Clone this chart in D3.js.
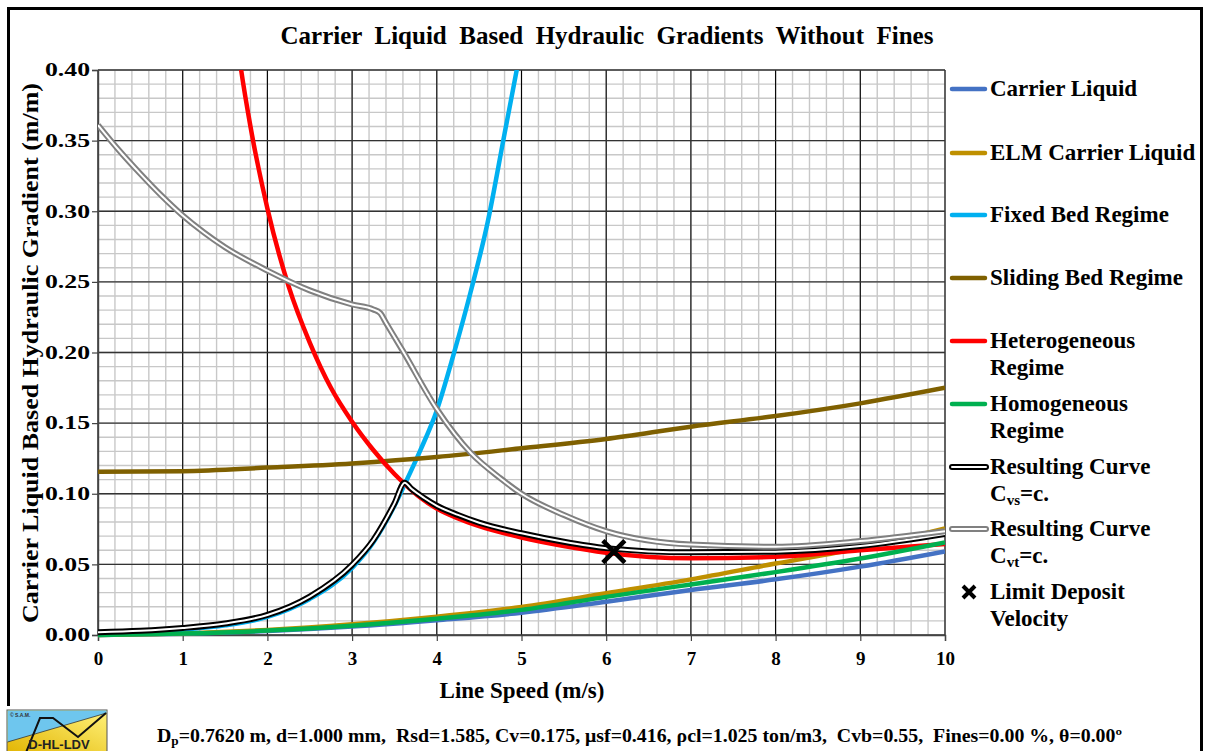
<!DOCTYPE html>
<html>
<head>
<meta charset="utf-8">
<script src="https://cdn.jsdelivr.net/npm/d3@7"></script>
<style>
  body { margin: 0; background: #fff; }
  text { font-family: "Liberation Serif", "Times New Roman", serif; font-weight: bold; fill: #000; }
</style>
</head>
<body>
<script>
// values
var clSpeed          = [0, 1, 2, 3, 4, 5, 6, 7, 8, 9, 10];
var carrierLiquid    = [0.000, 0.0009, 0.0028, 0.0060, 0.0105, 0.0158, 0.0236, 0.0319, 0.0394, 0.0484, 0.0592];
var elmCarrierLiquid = [0.000, 0.0012, 0.0036, 0.0076, 0.0130, 0.0198, 0.0295, 0.0394, 0.0506, 0.0615, 0.0755];
var homogeneous      = [0.000, 0.0010, 0.0031, 0.0066, 0.0115, 0.0178, 0.0270, 0.0358, 0.0445, 0.0541, 0.0655];
var slidingBed       = [0.1155, 0.1160, 0.1185, 0.1215, 0.1260, 0.1322, 0.1388, 0.1475, 0.1550, 0.1640, 0.1750];

var fixedBedSpeed = [0, 1, 1.5, 2, 2.5, 3, 3.25, 3.5, 3.62, 3.8, 4.0, 4.2, 4.4, 4.6, 4.8, 4.95, 5.05];
var fixedBed      = [0.0008, 0.0038, 0.0068, 0.0128, 0.0255, 0.0475, 0.0655, 0.0915, 0.1065, 0.1300, 0.1590, 0.1990, 0.2430, 0.2920, 0.3550, 0.4020, 0.4350];

var heteroSpeed   = [1.6, 1.69, 1.8, 2.0, 2.25, 2.5, 2.75, 3.0, 3.25, 3.5, 3.62, 3.8, 4.0, 4.25, 4.5, 5.0, 5.5, 6.0, 7.0, 8.0, 9.0, 10.0];
var heterogeneous = [0.4400, 0.4000, 0.3600, 0.3020, 0.2470, 0.2070, 0.1750, 0.1510, 0.1310, 0.1140, 0.1070, 0.0975, 0.0895, 0.0825, 0.0770, 0.0690, 0.0630, 0.0583, 0.0543, 0.0554, 0.0600, 0.0645];

var cvsSpeed     = [0, 0.5, 1, 1.5, 2, 2.5, 3, 3.25, 3.5, 3.62, 3.7, 3.85, 4.0, 4.25, 4.5, 5.0, 5.5, 6.0, 7.0, 8.0, 9.0, 10.0];
var resultingCvs = [0.0020, 0.0030, 0.0050, 0.0082, 0.0142, 0.0272, 0.0497, 0.0672, 0.0932, 0.1078, 0.1035, 0.0970, 0.0915, 0.0850, 0.0795, 0.0720, 0.0660, 0.0615, 0.0585, 0.0590, 0.0630, 0.0715];

var cvtSpeed     = [0, 0.25, 0.5, 0.75, 1, 1.25, 1.5, 2, 2.5, 3, 3.25, 3.33, 3.4, 3.6, 4.0, 4.4, 4.75, 5.0, 5.5, 6.0, 7.0, 8.0, 9.0, 10.0];
var resultingCvt = [0.3610, 0.3430, 0.3265, 0.3110, 0.2970, 0.2850, 0.2745, 0.2580, 0.2440, 0.2340, 0.2305, 0.2280, 0.2210, 0.2010, 0.1600, 0.1290, 0.1110, 0.1000, 0.0850, 0.0735, 0.0640, 0.0625, 0.0665, 0.0735];

var ldvPoint = [6.09, 0.059];

var xTicks = [0, 1, 2, 3, 4, 5, 6, 7, 8, 9, 10];
var yTicks = [0, 0.05, 0.10, 0.15, 0.20, 0.25, 0.30, 0.35, 0.40];

var titleText  = "Carrier  Liquid  Based  Hydraulic  Gradients  Without  Fines";
var xLabelText = "Line Speed (m/s)";
var yLabelText = "Carrier Liquid Based Hydraulic Gradient (m/m)";

var W = 1207, H = 751;
var x = d3.scaleLinear().domain([0, 10]).range([98, 945]);
var y = d3.scaleLinear().domain([0, 0.4]).range([635, 70]);

var svg = d3.select("body").append("svg")
    .attr("width", W)
    .attr("height", H);

// outer frame
svg.append("rect")
    .attr("x", 8.5).attr("y", 8.5)
    .attr("width", 1193).attr("height", 800)
    .attr("fill", "#fff")
    .attr("stroke", "#000").attr("stroke-width", 3);

// title
svg.append("text")
    .attr("x", 607).attr("y", 44)
    .attr("text-anchor", "middle")
    .style("font-size", "25px")
    .style("white-space", "pre")
    .text(titleText);

// grid
var grid = svg.append("g");
grid.selectAll(".vminor")
    .data(d3.range(0, 10.001, 0.2))
    .enter().append("line")
    .attr("x1", d => x(d)).attr("x2", d => x(d))
    .attr("y1", y(0)).attr("y2", y(0.4))
    .attr("stroke", "#c8c8c8").attr("stroke-width", 1.4);
grid.selectAll(".hminor")
    .data(d3.range(0, 0.4001, 0.01))
    .enter().append("line")
    .attr("x1", x(0)).attr("x2", x(10))
    .attr("y1", d => y(d)).attr("y2", d => y(d))
    .attr("stroke", "#c8c8c8").attr("stroke-width", 1.4);
grid.selectAll(".vmajor")
    .data(xTicks)
    .enter().append("line")
    .attr("x1", d => x(d)).attr("x2", d => x(d))
    .attr("y1", y(0)).attr("y2", y(0.4))
    .attr("stroke", "#000").attr("stroke-width", 1.1);
grid.selectAll(".hmajor")
    .data(yTicks)
    .enter().append("line")
    .attr("x1", x(0)).attr("x2", x(10))
    .attr("y1", d => y(d)).attr("y2", d => y(d))
    .attr("stroke", "#333").attr("stroke-width", 1.4);

// axes
var xAxis = svg.append("g")
    .attr("transform", "translate(0," + y(0) + ")")
    .call(d3.axisBottom(x).tickValues(xTicks).tickSize(6).tickPadding(11).tickFormat(d3.format("d")));
var yAxis = svg.append("g")
    .attr("transform", "translate(" + x(0) + ",0)")
    .call(d3.axisLeft(y).tickValues(yTicks).tickSize(6).tickPadding(2).tickFormat(d3.format(".2f")));
[xAxis, yAxis].forEach(function(a) {
    a.select(".domain").attr("stroke", "#444").attr("stroke-width", 1.4);
    a.selectAll(".tick line").attr("stroke", "#444").attr("stroke-width", 1.2);
    a.selectAll(".tick text")
        .style("font-family", "Liberation Serif, serif")
        .style("font-weight", "bold")
        .style("font-size", "19px")
        .attr("fill", "#000");
});
yAxis.selectAll(".tick text")
    .style("font-size", "18px")
    .attr("textLength", 45)
    .attr("lengthAdjust", "spacingAndGlyphs");

svg.append("text")
    .attr("x", 522).attr("y", 698)
    .attr("text-anchor", "middle")
    .style("font-size", "23px")
    .text(xLabelText);

svg.append("text")
    .attr("transform", "translate(38,353) rotate(-90)")
    .attr("text-anchor", "middle")
    .style("font-size", "23px")
    .attr("textLength", 540)
    .attr("lengthAdjust", "spacingAndGlyphs")
    .text(yLabelText);

// curves
svg.append("clipPath").attr("id", "plotclip")
    .append("rect")
    .attr("x", x(0)).attr("y", y(0.4))
    .attr("width", x(10) - x(0)).attr("height", y(0) - y(0.4) + 3);

var line = d3.line()
    .x(d => x(d[0]))
    .y(d => y(d[1]))
    .curve(d3.curveMonotoneX);

function zipped(xs, ys) { return xs.map((v, i) => [v, ys[i]]); }

var plot = svg.append("g").attr("clip-path", "url(#plotclip)");

var series = [
    {speed: clSpeed, vals: carrierLiquid, color: "#4472C4"},
    {speed: clSpeed, vals: elmCarrierLiquid, color: "#BF9000"},
    {speed: fixedBedSpeed, vals: fixedBed, color: "#00B0F0"},
    {speed: clSpeed, vals: slidingBed, color: "#7F6000"},
    {speed: heteroSpeed, vals: heterogeneous, color: "#FF0000"},
    {speed: clSpeed, vals: homogeneous, color: "#00B050"}
];

series.forEach(function(s) {
    plot.append("path")
        .datum(zipped(s.speed, s.vals))
        .attr("d", line)
        .attr("fill", "none")
        .attr("stroke", s.color)
        .attr("stroke-width", 4.5);
});

function doubleLine(data, color) {
    plot.append("path").datum(data).attr("d", line)
        .attr("fill", "none").attr("stroke", color).attr("stroke-width", 6);
    plot.append("path").datum(data).attr("d", line)
        .attr("fill", "none").attr("stroke", "#fff").attr("stroke-width", 2);
}
doubleLine(zipped(cvsSpeed, resultingCvs), "#000");
doubleLine(zipped(cvtSpeed, resultingCvt), "#808080");

svg.append("path")
    .attr("transform", "translate(" + x(ldvPoint[0]) + "," + y(ldvPoint[1]) + ")")
    .attr("d", "M-11,-11L11,11M-11,11L11,-11")
    .attr("stroke", "#000").attr("stroke-width", 4.5);

// legend
var legendItems = [
    {lines: ["Carrier Liquid"], color: "#4472C4", kind: "line"},
    {lines: ["ELM Carrier Liquid"], color: "#BF9000", kind: "line"},
    {lines: ["Fixed Bed Regime"], color: "#00B0F0", kind: "line"},
    {lines: ["Sliding Bed Regime"], color: "#7F6000", kind: "line"},
    {lines: ["Heterogeneous", "Regime"], color: "#FF0000", kind: "line"},
    {lines: ["Homogeneous", "Regime"], color: "#00B050", kind: "line"},
    {lines: ["Resulting Curve", ["C", "vs", "=c."]], color: "#000", kind: "double"},
    {lines: ["Resulting Curve", ["C", "vt", "=c."]], color: "#808080", kind: "double"},
    {lines: ["Limit Deposit", "Velocity"], color: "#000", kind: "x"}
];
var legendY = [89, 153, 215, 278, 341, 404, 467, 529, 592];

legendItems.forEach(function(item, i) {
    var ly = legendY[i];
    var g = svg.append("g");
    if (item.kind === "line") {
        g.append("line").attr("x1", 952).attr("x2", 985).attr("y1", ly).attr("y2", ly)
            .attr("stroke", item.color).attr("stroke-width", 4.5).attr("stroke-linecap", "round");
    } else if (item.kind === "double") {
        g.append("line").attr("x1", 952).attr("x2", 986).attr("y1", ly).attr("y2", ly)
            .attr("stroke", item.color).attr("stroke-width", 6).attr("stroke-linecap", "round");
        g.append("line").attr("x1", 952).attr("x2", 986).attr("y1", ly).attr("y2", ly)
            .attr("stroke", "#fff").attr("stroke-width", 2).attr("stroke-linecap", "round");
    } else {
        g.append("path").attr("transform", "translate(969," + ly + ")")
            .attr("d", "M-6,-6L6,6M-6,6L6,-6")
            .attr("stroke", "#000").attr("stroke-width", 4);
    }
    item.lines.forEach(function(t, j) {
        var tx = g.append("text")
            .attr("x", 990).attr("y", ly + 7 + j * 26.5)
            .style("font-size", "23px");
        if (typeof t === "string") {
            tx.text(t);
        } else {
            tx.append("tspan").text(t[0]);
            tx.append("tspan").attr("dy", 4).style("font-size", "15px").text(t[1]);
            tx.append("tspan").attr("dy", -4).text(t[2]);
        }
    });
});

// parameter line
var params = svg.append("text")
    .attr("x", 157).attr("y", 742)
    .style("font-size", "18px")
    .style("white-space", "pre")
    .attr("textLength", 965)
    .attr("lengthAdjust", "spacingAndGlyphs");
params.append("tspan").text("D");
params.append("tspan").attr("dy", 3).style("font-size", "12px").text("p");
params.append("tspan").attr("dy", -3)
    .text("=0.7620 m, d=1.000 mm,  Rsd=1.585, Cv=0.175, \u03bcsf=0.416, \u03c1cl=1.025 ton/m3,  Cvb=0.55,  Fines=0.00 %, \u03b8=0.00\u00ba");

// logo
svg.append("rect").attr("x", 0).attr("y", 706).attr("width", 14).attr("height", 45).attr("fill", "#fff");
var logo = svg.append("g").attr("transform", "translate(7,710)");
var grad = svg.append("defs").append("linearGradient").attr("id", "logoGrad")
    .attr("x1", "0").attr("y1", "1").attr("x2", "1").attr("y2", "0");
grad.append("stop").attr("offset", "0").attr("stop-color", "#E2B400");
grad.append("stop").attr("offset", "1").attr("stop-color", "#FFF27A");
logo.append("rect").attr("width", 100).attr("height", 45).attr("fill", "url(#logoGrad)")
    .attr("stroke", "#555").attr("stroke-width", 1);
logo.append("path").attr("d", "M0.5,0.5H99.5V3L0.5,32Z").attr("fill", "#6EC6EE");
logo.append("path").attr("d", "M0.5,32L99.5,3").attr("stroke", "#333").attr("stroke-width", 0.8);
logo.append("path").attr("d", "M18,45L33,8H46L71,27L99,3").attr("fill", "none")
    .attr("stroke", "#111").attr("stroke-width", 2);
logo.append("text").attr("x", 3).attr("y", 7)
    .style("font-family", "Liberation Sans, sans-serif").style("font-size", "5px").style("fill", "#333")
    .text("\u00a9 S.A.M.");
logo.append("text").attr("x", 52).attr("y", 39).attr("text-anchor", "middle")
    .style("font-family", "Liberation Sans, Arial, sans-serif").style("font-size", "13px")
    .style("font-weight", "bold").style("fill", "#222")
    .text("D-HL-LDV");
</script>
</body>
</html>
